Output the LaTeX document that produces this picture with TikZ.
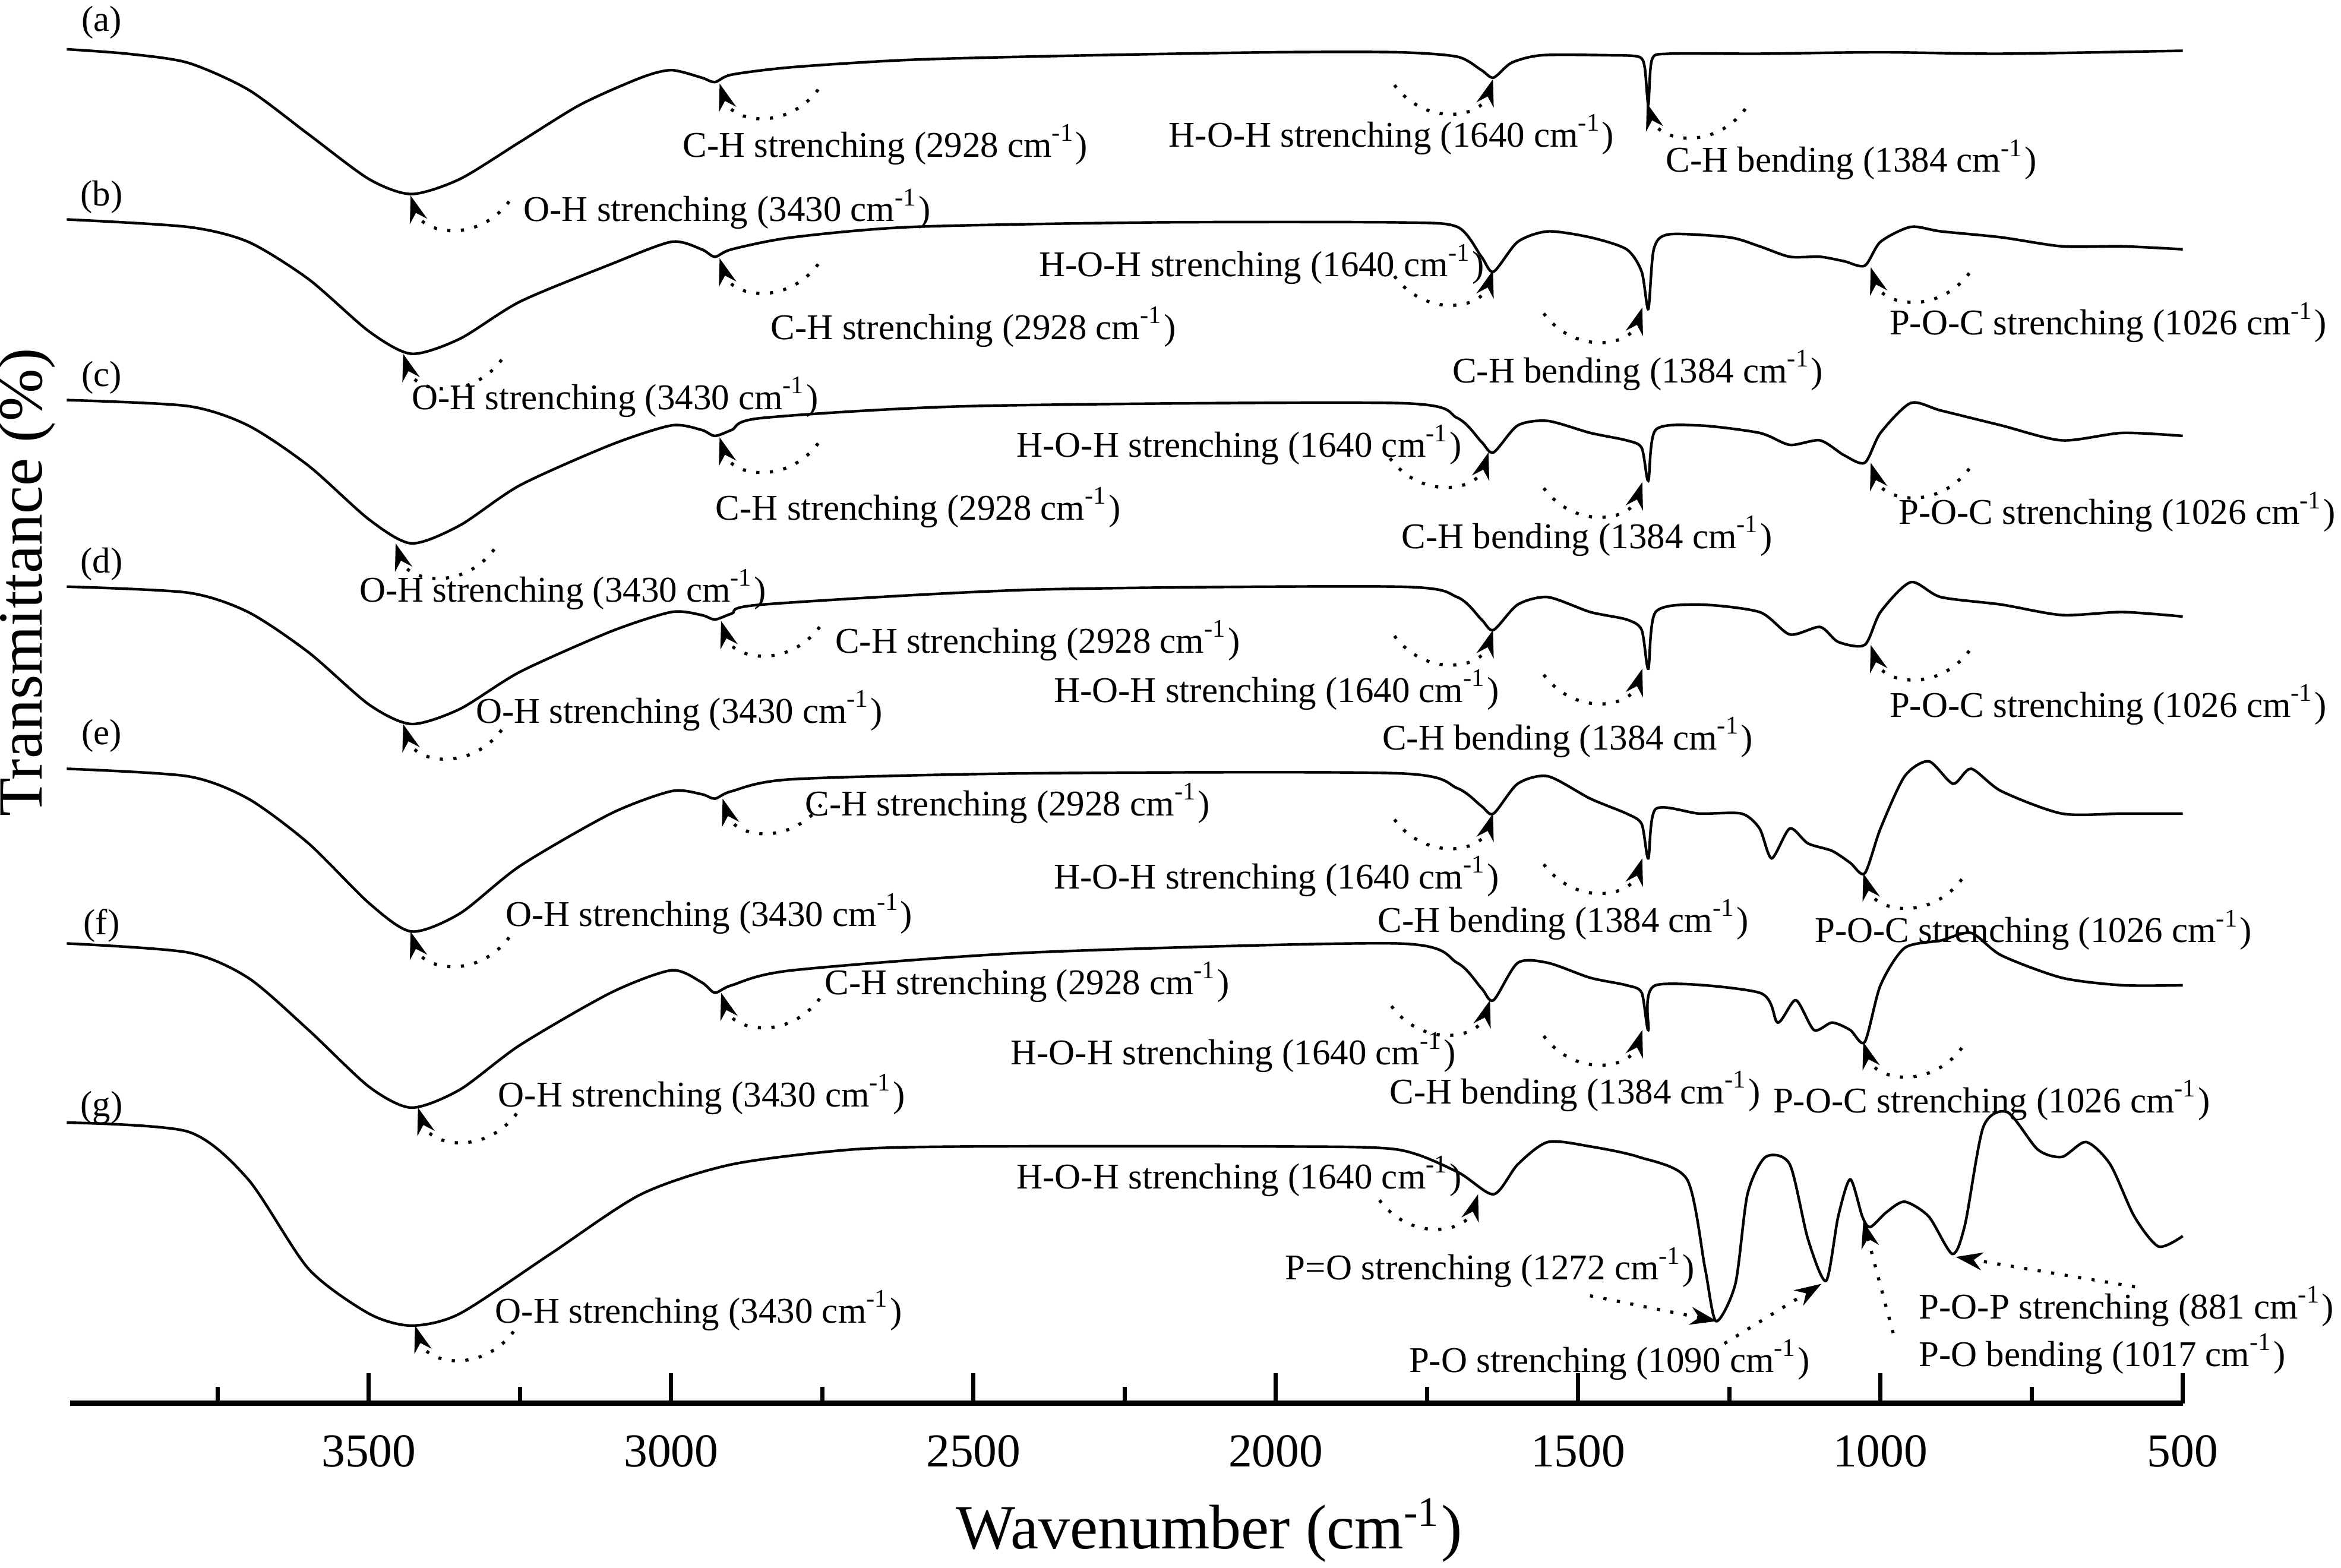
\documentclass[tikz,border=0pt]{standalone}
\usepackage{fontspec}
\setmainfont{Liberation Serif}
\usetikzlibrary{arrows.meta}
\newcommand\cmi{cm\textsuperscript{-1}}
\newcommand\pk[3]{\draw[dotted,semithick,-{Stealth[length=1.8mm,width=1.2mm]}] ({#1+#3*66},{#2+4}) .. controls ({#1+#3*45},{#2+32}) and ({#1+#3*8},{#2+26}) .. (#1,#2);}
\begin{document}
\begin{tikzpicture}[x=0.1mm,y=-0.1mm,lab/.style={font=\fontsize{6.9}{8}\selectfont,inner sep=0pt},
  spec/.style={line width=0.5pt,smooth,tension=0.45}]
\useasboundingbox (0,0) rectangle (1568,1050);
\fill[white] (0,0) rectangle (1568,1050);
% axis
\draw[line width=1pt] (47,940) -- (1462,940);
\foreach \w in {3500,3000,2500,2000,1500,1000,500}{
  \draw[line width=0.8pt] ({1664.5-0.405*\w},940) -- ({1664.5-0.405*\w},920);
  \node[font=\fontsize{9}{10}\selectfont] at ({1664.5-0.405*\w},972) {\w};}
\foreach \w in {3750,3250,2750,2250,1750,1250,750}
  \draw[line width=0.8pt] ({1664.5-0.405*\w},940) -- ({1664.5-0.405*\w},929);
\node[font=\fontsize{12}{14}\selectfont] at (810,1025) {Wavenumber (\cmi)};
\node[font=\fontsize{12}{14}\selectfont,rotate=90] at (18,390) {Transmittance (\%)};
% spectra
\begin{scope}[x=-0.0405mm,xshift=166.45mm]
\draw[spec] plot coordinates {(4000,33)(3900,36)(3800,42)(3700,60)(3600,90)(3500,120)(3430,130)(3350,120)(3250,95)(3150,70)(3050,52)(3000,47)(2950,52)(2928,55)(2900,50)(2800,45)(2600,40)(2300,37)(2000,35)(1800,35)(1700,38)(1660,47)(1640,52)(1610,42)(1560,37)(1450,37)(1400,38)(1390,45)(1384,70)(1378,40)(1350,36)(1200,36)(1000,35)(800,36)(500,34)};
\draw[spec] plot coordinates {(4000,147)(3800,152)(3700,162)(3600,187)(3500,222)(3430,237)(3350,227)(3250,202)(3100,177)(3000,162)(2950,167)(2928,172)(2900,167)(2800,159)(2600,152)(2200,149)(1800,149)(1700,152)(1660,172)(1640,182)(1600,162)(1550,155)(1480,159)(1420,167)(1395,182)(1384,207)(1375,167)(1350,157)(1250,159)(1200,165)(1150,172)(1100,172)(1060,175)(1026,178)(1000,162)(950,152)(900,155)(800,159)(700,165)(600,165)(500,167)};
\draw[spec] plot coordinates {(4000,268)(3800,272)(3700,285)(3600,312)(3500,348)(3430,364)(3350,352)(3250,325)(3100,298)(3000,285)(2950,288)(2928,292)(2900,288)(2850,280)(2500,272)(1800,270)(1700,280)(1660,296)(1640,303)(1600,285)(1550,282)(1480,290)(1420,295)(1395,300)(1384,322)(1372,288)(1300,285)(1200,290)(1150,298)(1100,295)(1060,305)(1026,310)(1000,290)(950,270)(900,275)(800,285)(700,295)(600,290)(500,292)};
\draw[spec] plot coordinates {(4000,393)(3800,397)(3700,410)(3600,437)(3500,472)(3430,485)(3350,475)(3250,450)(3100,423)(3000,410)(2950,412)(2928,415)(2900,411)(2850,405)(2400,395)(1800,393)(1700,400)(1660,415)(1640,422)(1600,405)(1550,400)(1480,410)(1420,415)(1395,422)(1384,448)(1372,410)(1300,405)(1200,410)(1150,425)(1100,420)(1070,430)(1026,432)(1000,410)(950,390)(900,400)(800,405)(700,412)(600,410)(500,413)};
\draw[spec] plot coordinates {(4000,515)(3800,520)(3700,535)(3600,565)(3500,605)(3430,624)(3350,612)(3250,580)(3100,545)(3000,530)(2950,532)(2928,535)(2900,530)(2800,522)(2400,518)(1800,518)(1700,528)(1660,540)(1640,545)(1600,525)(1550,520)(1480,535)(1420,545)(1395,552)(1384,575)(1372,542)(1300,545)(1230,545)(1200,555)(1180,575)(1150,555)(1120,565)(1080,570)(1050,578)(1026,585)(1000,555)(960,520)(920,510)(880,525)(850,515)(800,530)(700,545)(600,545)(500,545)};
\draw[spec] plot coordinates {(4000,632)(3800,638)(3700,655)(3600,690)(3500,728)(3430,742)(3350,730)(3250,700)(3100,665)(3000,650)(2950,658)(2928,665)(2900,660)(2800,650)(2400,638)(1800,632)(1700,645)(1660,662)(1640,670)(1600,645)(1550,645)(1480,655)(1420,660)(1395,665)(1384,690)(1372,660)(1200,665)(1170,685)(1140,670)(1110,690)(1080,685)(1050,690)(1026,698)(1000,660)(960,635)(900,630)(850,625)(800,640)(700,655)(600,660)(500,660)};
\draw[spec] plot coordinates {(4000,752)(3800,758)(3700,790)(3600,850)(3500,880)(3430,888)(3350,880)(3200,840)(3050,800)(2900,780)(2700,770)(2500,768)(2000,768)(1800,770)(1700,785)(1640,800)(1600,780)(1550,765)(1480,768)(1400,775)(1320,790)(1290,850)(1272,885)(1240,860)(1220,800)(1190,775)(1150,780)(1120,830)(1090,858)(1070,815)(1050,790)(1030,815)(1017,822)(990,812)(960,805)(920,815)(881,840)(860,820)(830,755)(790,745)(740,770)(700,775)(660,765)(620,780)(580,815)(540,835)(500,828)};
\end{scope}
% curve letters
\foreach \l/\y in {a/15,b/132,c/253,d/378,e/493,f/620,g/742}
  \node[lab] at (68,\y) {(\l)};
% (a)
\pk{482}{56}{1} \node[lab] at (593,97) {C-H strenching (2928 \cmi)};
\pk{1000}{53}{-1} \node[lab] at (932,90) {H-O-H strenching (1640 \cmi)};
\pk{1103}{69}{1} \node[lab] at (1240,107) {C-H bending (1384 \cmi)};
\pk{275}{131}{1} \node[lab] at (487,140) {O-H strenching (3430 \cmi)};
% (b)
\pk{1000}{181}{-1} \node[lab] at (845,177) {H-O-H strenching (1640 \cmi)};
\pk{482}{173}{1} \node[lab] at (652,219) {C-H strenching (2928 \cmi)};
\pk{1100}{206}{-1} \node[lab] at (1097,248) {C-H bending (1384 \cmi)};
\pk{1253}{179}{1} \node[lab] at (1412,216) {P-O-C strenching (1026 \cmi)};
\pk{270}{237}{1} \node[lab] at (412,266) {O-H strenching (3430 \cmi)};
% (c)
\pk{997}{303}{-1} \node[lab] at (830,298) {H-O-H strenching (1640 \cmi)};
\pk{482}{293}{1} \node[lab] at (615,340) {C-H strenching (2928 \cmi)};
\pk{1100}{323}{-1} \node[lab] at (1063,359) {C-H bending (1384 \cmi)};
\pk{1253}{310}{1} \node[lab] at (1418,343) {P-O-C strenching (1026 \cmi)};
\pk{265}{364}{1} \node[lab] at (377,395) {O-H strenching (3430 \cmi)};
% (d)
\pk{483}{416}{1} \node[lab] at (695,429) {C-H strenching (2928 \cmi)};
\pk{1000}{422}{-1} \node[lab] at (855,462) {H-O-H strenching (1640 \cmi)};
\pk{1100}{448}{-1} \node[lab] at (1050,494) {C-H bending (1384 \cmi)};
\pk{1253}{432}{1} \node[lab] at (1412,472) {P-O-C strenching (1026 \cmi)};
\pk{270}{485}{1} \node[lab] at (455,476) {O-H strenching (3430 \cmi)};
% (e)
\pk{484}{535}{1} \node[lab] at (675,538) {C-H strenching (2928 \cmi)};
\pk{1000}{545}{-1} \node[lab] at (855,587) {H-O-H strenching (1640 \cmi)};
\pk{1100}{575}{-1} \node[lab] at (1047,616) {C-H bending (1384 \cmi)};
\pk{1248}{585}{1} \node[lab] at (1362,623) {P-O-C strenching (1026 \cmi)};
\pk{275}{624}{1} \node[lab] at (475,612) {O-H strenching (3430 \cmi)};
% (f)
\pk{483}{665}{1} \node[lab] at (688,658) {C-H strenching (2928 \cmi)};
\pk{998}{670}{-1} \node[lab] at (826,705) {H-O-H strenching (1640 \cmi)};
\pk{1100}{690}{-1} \node[lab] at (1055,731) {C-H bending (1384 \cmi)};
\pk{1248}{698}{1} \node[lab] at (1334,737) {P-O-C strenching (1026 \cmi)};
\pk{280}{742}{1} \node[lab] at (470,733) {O-H strenching (3430 \cmi)};
% (g)
\pk{990}{800}{-1} \node[lab] at (830,788) {H-O-H strenching (1640 \cmi)};
\pk{278}{888}{1} \node[lab] at (468,878) {O-H strenching (3430 \cmi)};
\node[lab] at (998,849) {P=O strenching (1272 \cmi)};
\draw[dotted,semithick,-{Stealth[length=1.8mm,width=1.2mm]}] (1065,868) -- (1150,885);
\node[lab] at (1078,911) {P-O strenching (1090 \cmi)};
\draw[dotted,semithick,-{Stealth[length=1.8mm,width=1.2mm]}] (1155,900) -- (1220,860);
\node[lab] at (1408,907) {P-O bending (1017 \cmi)};
\draw[dotted,semithick,-{Stealth[length=1.8mm,width=1.2mm]}] (1268,893) -- (1248,818);
\node[lab,anchor=east] at (1564,875) {P-O-P strenching (881 \cmi)};
\draw[dotted,semithick,-{Stealth[length=1.8mm,width=1.2mm]}] (1430,862) -- (1310,842);
\end{tikzpicture}
\end{document}
